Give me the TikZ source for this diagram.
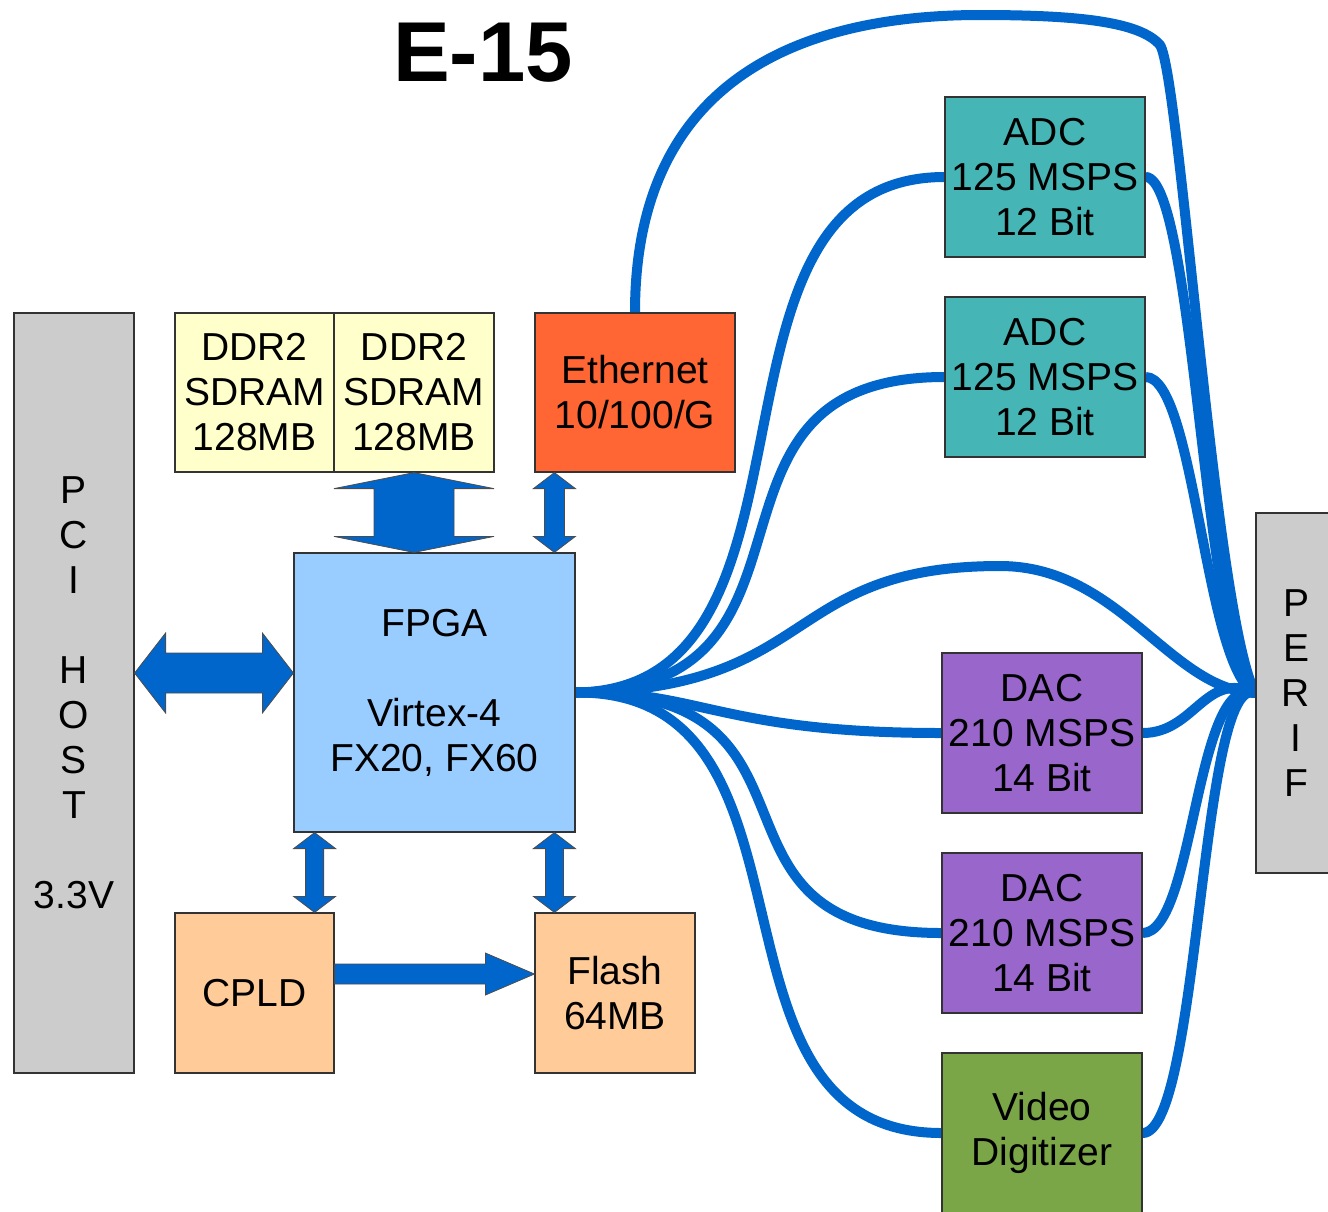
\documentclass[tikz,border=0pt]{standalone}
\usepackage{fontspec}
\setmainfont{Liberation Sans}
\usetikzlibrary{calc,backgrounds}

\definecolor{busblue}{HTML}{0066CC}
\definecolor{hostgray}{HTML}{CCCCCC}
\definecolor{ddryellow}{HTML}{FFFFCC}
\definecolor{ethorange}{HTML}{FF6633}
\definecolor{fpgablue}{HTML}{99CCFF}
\definecolor{peach}{HTML}{FFCC99}
\definecolor{adcteal}{HTML}{45B5B5}
\definecolor{dacpurple}{HTML}{9966CC}
\definecolor{vidgreen}{HTML}{7BA647}

\tikzset{
	box/.style={draw=black!80, line width=1.2pt, inner sep=0pt, align=center,
		font=\fontsize{39}{45}\selectfont},
	bus/.style={draw=busblue, line width=10pt},
	blockarrow/.style={fill=busblue, draw=black!70, line width=0.8pt}
}

% vertical double block arrow: top tip, bottom tip, head half width, shaft half width
\newcommand{\vbiarrow}[4]{%
	\filldraw[blockarrow] (#1) -- ($(#1)+(#3,16)$) -- ($(#1)+(#4,16)$)
		-- ($(#2)+(#4,-16)$) -- ($(#2)+(#3,-16)$) -- (#2)
		-- ($(#2)+(-#3,-16)$) -- ($(#2)+(-#4,-16)$)
		-- ($(#1)+(-#4,16)$) -- ($(#1)+(-#3,16)$) -- cycle;}

\begin{document}
\begin{tikzpicture}[x=1pt,y=-1pt]
	\useasboundingbox (0,0) rectangle (1328,1211);
	
	\node[font=\fontsize{85}{90}\selectfont\bfseries, inner sep=0pt] (title) at (483,53) {E-15};
	
	% host side
	\node[box, fill=hostgray, minimum width=120, minimum height=760] (pci) at (74,693)
		{P\\C\\I\\[45pt]H\\O\\S\\T\\[45pt]3.3V};
	\node[box, fill=ddryellow, minimum width=159, minimum height=159] (ddrA) at (254.5,392.5)
		{DDR2\\SDRAM\\128MB};
	\node[box, fill=ddryellow, minimum width=160, minimum height=159] (ddrB) at (414,392.5)
		{DDR2\\SDRAM\\128MB};
	\node[box, fill=ethorange, minimum width=200, minimum height=159] (eth) at (635,392.5)
		{Ethernet\\10/100/G};
	\node[box, fill=fpgablue, minimum width=281, minimum height=279] (fpga) at (434.5,692.5)
		{FPGA\\[45pt]Virtex-4\\FX20, FX60};
	\node[box, fill=peach, minimum width=159, minimum height=160] (cpld) at (254.5,993) {CPLD};
	\node[box, fill=peach, minimum width=160, minimum height=160] (flash) at (615,993)
		{Flash\\64MB};
	
	% converters
	\node[box, fill=adcteal, minimum width=200, minimum height=160] (adcA) at (1045,177)
		{ADC\\125 MSPS\\12 Bit};
	\node[box, fill=adcteal, minimum width=200, minimum height=160] (adcB) at (1045,377)
		{ADC\\125 MSPS\\12 Bit};
	\node[box, fill=dacpurple, minimum width=200, minimum height=160] (dacA) at (1042,733)
		{DAC\\210 MSPS\\14 Bit};
	\node[box, fill=dacpurple, minimum width=200, minimum height=160] (dacB) at (1042,933)
		{DAC\\210 MSPS\\14 Bit};
	\node[box, fill=vidgreen, minimum width=200, minimum height=160] (video) at (1042,1133)
		{Video\\Digitizer};
	\node[box, fill=hostgray, minimum width=80, minimum height=360] (perif) at (1296,693)
		{P\\E\\R\\I\\F};
	
	% block arrows
	\coordinate (ethtip) at ($(eth.south west)+(20,0)$);
	\coordinate (cpldtip) at ($(cpld.north east)+(-20,0)$);
	\coordinate (flashtip) at ($(flash.north west)+(20,0)$);
	\vbiarrow{ddrB.south}{ddrB.south |- fpga.north}{80}{40}
	\vbiarrow{ethtip}{ethtip |- fpga.north}{21}{10}
	\vbiarrow{cpldtip |- fpga.south}{cpldtip}{21}{9}
	\vbiarrow{flashtip |- fpga.south}{flashtip}{21}{9}
	\coordinate (pcitip) at ($(pci.east)+(0,-20)$);
	\coordinate (fpgatip) at (fpga.west |- pcitip);
	\filldraw[blockarrow] (pcitip) -- ++(31,-40) -- ++(0,20) -- ($(fpgatip)+(-31,-20)$)
		-- ++(0,-20) -- (fpgatip) -- ++(-31,40) -- ++(0,-20) -- ($(pcitip)+(31,20)$)
		-- ++(0,20) -- cycle;
	\coordinate (cpldout) at ($(cpld.east)+(0,-19)$);
	\coordinate (flashin) at (flash.west |- cpldout);
	\filldraw[blockarrow] ($(cpldout)+(0,-10)$) -- ($(flashin)+(-49,-10)$) -- ++(0,-11)
		-- (flashin) -- ($(flashin)+(-49,21)$) -- ++(0,-11) -- ($(cpldout)+(0,10)$) -- cycle;
	
	% bus lines
	\begin{scope}[on background layer]
		\draw[bus] (eth.north) .. controls (635,80) and (800,15) .. (980,15)
			.. controls (1080,15) and (1140,22) .. (1160,45)
			.. controls (1180,75) and (1215,620) .. (perif.west);
		\draw[bus] (fpga.east) .. controls (820,690) and (780,566) .. (1000,566)
			.. controls (1120,566) and (1170,690) .. (perif.west);
		\foreach \dev/\a/\b in
		{adcA/845/680, adcB/850/670, dacA/700/720, dacB/850/680, video/840/685}{
			\draw[bus] (fpga.east) .. controls (\a,690) and (\b,0 |- \dev.west) .. (\dev.west);
		}
		\foreach \dev/\a/\b in
		{adcA/1195/1205, adcB/1195/1205, dacA/1195/1205, dacB/1195/1195, video/1200/1200}{
			\draw[bus] (\dev.east) .. controls (\a,0 |- \dev.east) and (\b,670) .. (perif.west);
		}
	\end{scope}
\end{tikzpicture}
\end{document}
